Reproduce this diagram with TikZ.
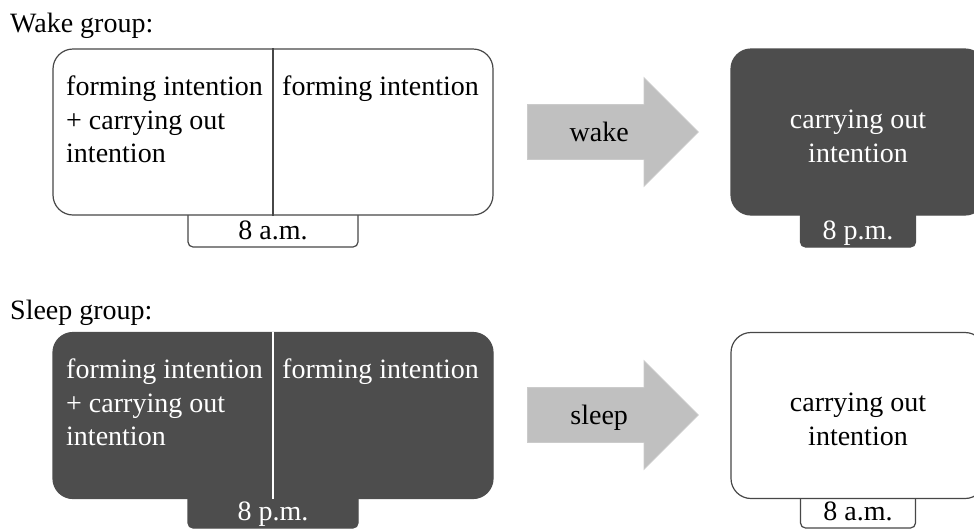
\documentclass[tikz,border=0pt]{standalone}
\usepackage{fontspec}
\setmainfont{Liberation Serif}
\usetikzlibrary{shapes.arrows,positioning}
\definecolor{darkbox}{HTML}{4D4D4D}
\definecolor{darkline}{HTML}{474747}
\definecolor{arrowgrey}{HTML}{C0C0C0}
\definecolor{arrowline}{HTML}{CBCBCB}

\begin{document}
\begin{tikzpicture}[x=1pt, y=-1pt, font=\fontsize{28}{33.5}\selectfont]
\tikzstyle{box}=[rectangle, rounded corners=20pt, minimum height=166pt, inner sep=0pt, line width=1.2pt]
\tikzstyle{tab}=[rectangle, rounded corners=5pt, minimum height=42pt, text height=26pt, text depth=0pt, inner sep=0pt, line width=1.2pt]
\tikzstyle{light}=[draw=darkline, fill=white, text=black]
\tikzstyle{dark}=[draw=darkbox, fill=darkbox, text=white]
\tikzstyle{bigarrow}=[single arrow, anchor=tail, fill=arrowgrey, draw=arrowline, line width=0.8pt,
    minimum height=171pt, single arrow head extend=27pt, single arrow tip angle=90,
    text height=18pt, text depth=0pt, inner ysep=18pt, inner xsep=0pt]
\tikzstyle{coltext}=[anchor=north west, align=left, inner sep=0pt]
\useasboundingbox (0,0) rectangle (974,528);

% wake group
\node[anchor=base west, inner sep=0pt] (wakeTitle) at (10,32) {Wake group:};
\node[tab, light, minimum width=170pt] (wakeTabL) at (273,226) {8 a.m.};
\node[box, light, minimum width=440pt] (wakeL) at (273,132) {};
\draw[darkline, line width=1.2pt] (wakeL.north) -- (wakeL.south);
\node[coltext] (wakeBoth) at (66,76) {forming intention\\+ carrying out\\intention};
\node[coltext] (wakeForm) at (282,76) {forming intention};
\node[bigarrow] (wakeArrow) at (527,132) {wake};
\node[tab, dark, minimum width=115pt] (wakeTabR) at (858,226) {8 p.m.};
\node[box, dark, minimum width=254pt] (wakeR) at (858,132) {};
\node[align=center, anchor=north, inner sep=0pt, text=white] (wakeCarry) at (wakeR.center |- 0,110) {carrying out\\intention};

% sleep group
\node[anchor=base west, inner sep=0pt] (sleepTitle) at (10,319) {Sleep group:};
\node[tab, dark, minimum width=170pt] (sleepTabL) at (273,507) {8 p.m.};
\node[box, dark, minimum width=440pt] (sleepL) at (273,415.5) {};
\draw[white, line width=1.2pt] (sleepL.north) -- (sleepL.south);
\node[coltext, text=white] (sleepBoth) at (66,359) {forming intention\\+ carrying out\\intention};
\node[coltext, text=white] (sleepForm) at (282,359) {forming intention};
\node[bigarrow] (sleepArrow) at (527,415) {sleep};
\node[tab, light, minimum width=115pt] (sleepTabR) at (858,507) {8 a.m.};
\node[box, light, minimum width=254pt] (sleepR) at (858,415.5) {};
\node[align=center, anchor=north, inner sep=0pt] (sleepCarry) at (sleepR.center |- 0,393) {carrying out\\intention};
\end{tikzpicture}
\end{document}
